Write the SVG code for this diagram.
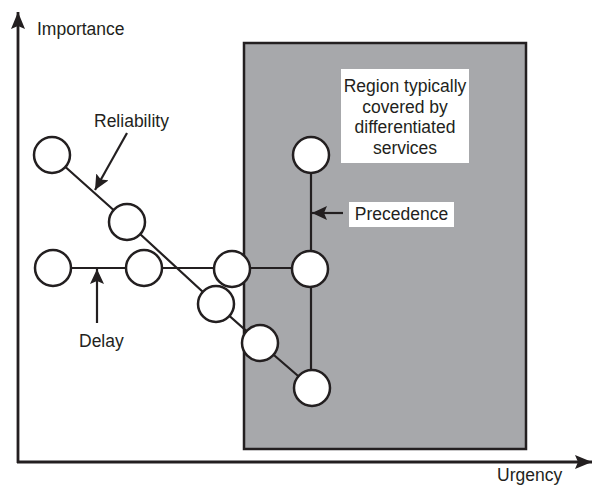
<svg xmlns="http://www.w3.org/2000/svg" width="595" height="487" viewBox="0 0 595 487">
<style>
text { font-family: "Liberation Sans", Arial, sans-serif; font-size: 17.5px; fill: #231f20; }
.node { fill: #ffffff; stroke: #231f20; stroke-width: 2.5; }
.edge { stroke: #231f20; stroke-width: 2.2; fill: none; }
.axis { stroke: #231f20; stroke-width: 2.8; fill: none; }
.ptr { stroke: #231f20; stroke-width: 2.2; fill: none; marker-end: url(#ah); }
</style>
<defs>
<marker id="ah" markerUnits="userSpaceOnUse" markerWidth="16" markerHeight="14" refX="15" refY="7" orient="auto">
<path d="M0,0 L15,7 L0,14 L3,7 Z" fill="#231f20"/>
</marker>
<marker id="axh" markerUnits="userSpaceOnUse" markerWidth="18" markerHeight="14" refX="17" refY="7" orient="auto">
<path d="M0,0 L17,7 L0,14 L3,7 Z" fill="#231f20"/>
</marker>
</defs>
<rect x="0" y="0" width="595" height="487" fill="#ffffff"/>
<g id="region">
<rect x="244" y="43" width="282" height="406" fill="#a7a8ab" stroke="#231f20" stroke-width="2.5"/>
<rect x="341" y="69" width="128" height="94" fill="#ffffff"/>
<text x="405" y="92" text-anchor="middle">Region typically</text>
<text x="405" y="112.5" text-anchor="middle">covered by</text>
<text x="405" y="133" text-anchor="middle">differentiated</text>
<text x="405" y="153.5" text-anchor="middle">services</text>
</g>
<g id="axes">
<path class="axis" d="M18,463 L18,12" marker-end="url(#axh)"/>
<path class="axis" d="M17,462 L592,462" marker-end="url(#axh)"/>
<text x="37" y="35">Importance</text>
<text x="497" y="481">Urgency</text>
</g>
<g id="connectors">
<polyline class="edge" points="52,155 127,222 216,304 260,343 312,388"/>
<line class="edge" x1="53" y1="268" x2="310" y2="268"/>
<line class="edge" x1="311" y1="155" x2="311" y2="388"/>
<line class="ptr" x1="127" y1="133" x2="95" y2="190"/>
<line class="ptr" x1="97" y1="323" x2="97" y2="269"/>
<line class="ptr" x1="343" y1="213" x2="312" y2="213"/>
</g>
<g id="labels">
<text x="94" y="127">Reliability</text>
<text x="79" y="347">Delay</text>
<rect x="349" y="202" width="105" height="25" fill="#ffffff"/>
<text x="401.5" y="220" text-anchor="middle">Precedence</text>
</g>
<g id="n1"><circle class="node" cx="52" cy="155" r="18"/></g>
<g id="n2"><circle class="node" cx="127" cy="222" r="18"/></g>
<g id="n3"><circle class="node" cx="53" cy="268" r="18"/></g>
<g id="n4"><circle class="node" cx="144" cy="268" r="18"/></g>
<g id="n5"><circle class="node" cx="232" cy="269" r="18"/></g>
<g id="n6"><circle class="node" cx="310" cy="269" r="18"/></g>
<g id="n7"><circle class="node" cx="216" cy="304" r="18"/></g>
<g id="n8"><circle class="node" cx="260" cy="343" r="18"/></g>
<g id="n9"><circle class="node" cx="312" cy="388" r="18"/></g>
<g id="n10"><circle class="node" cx="311" cy="155" r="18"/></g>
</svg>
